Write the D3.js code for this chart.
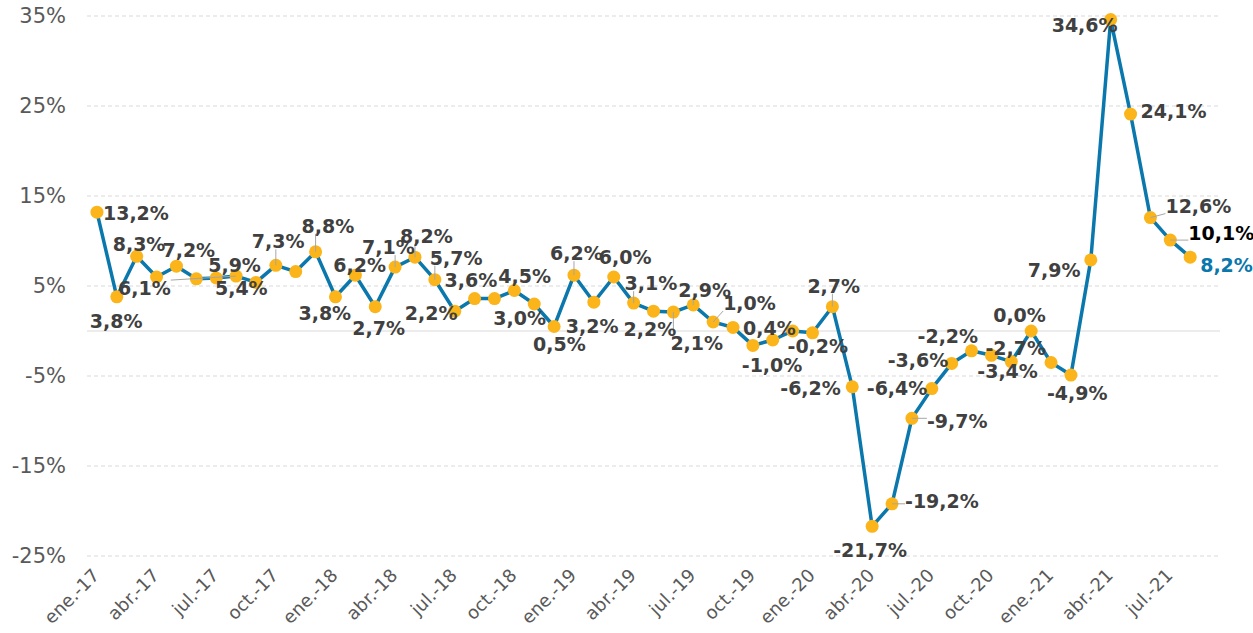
<!DOCTYPE html>
<html>
<head>
<meta charset="utf-8">
<script src="https://cdnjs.cloudflare.com/ajax/libs/d3/7.8.5/d3.min.js"></script>
<style>
  body { margin: 0; background: #fff; }
  svg { display: block; font-family: "DejaVu Sans", Verdana, sans-serif; }
</style>
</head>
<body>
<svg width="1253" height="633"></svg>
<script>

// month names and years of the category axis (57 slots, the last one empty)
var monthNames = ["ene.", "feb.", "mar.", "abr.", "may.", "jun.", "jul.", "ago.", "sep.", "oct.", "nov.", "dic."];
var years = ["17", "18", "19", "20", "21"];

// year-on-year variation, % (ene.-17 .. ago.-21)
var values = [
  13.2, 3.8, 8.3, 6.0, 7.2, 5.8, 5.9, 6.1, 5.4, 7.3, 6.6, 8.8,
  3.8, 6.2, 2.7, 7.1, 8.2, 5.7, 2.2, 3.6, 3.6, 4.5, 3.0, 0.5,
  6.2, 3.2, 6.0, 3.1, 2.2, 2.1, 2.9, 1.0, 0.4, -1.6, -1.0, 0.0,
  -0.2, 2.7, -6.2, -21.7, -19.2, -9.7, -6.4, -3.6, -2.2, -2.7, -3.4, 0.0,
  -3.5, -4.9, 7.9, 34.6, 24.1, 12.6, 10.1, 8.2
];

var yTicks = [-25, -15, -5, 5, 15, 25, 35];

// label placement: [index, dx, dy, leader]  (offset of label start/baseline from the point)
var labelPos = [
  [0, 6, 8, false], [1, -27, 31, false], [2, -24, -5, false], [4, -14, -9, false],
  [6, -8, -6, false], [7, -118, 19, true], [8, -41, 13, false], [9, -24, -17, true],
  [11, -14, -19, true], [12, -37, 23, false], [13, -22, -3, false], [14, -23, 28, false],
  [15, -33, -13, true], [16, -15, -14, true], [17, -5, -15, true], [18, -50, 9, false],
  [19, -30, -12, false], [21, -16, -8, false], [22, -41, 21, false], [23, -21, 24, false],
  [24, -24, -15, true], [25, -28, 31, false], [26, -15, -13, false], [27, -9, -13, true],
  [28, -30, 25, false], [29, -3, 38, true], [30, -15, -8, true], [31, 10, -12, true],
  [32, 10, 8, false], [34, -31, 32, false], [36, -25, 20, false], [37, -25, -14, true],
  [38, -72, 8, false], [39, -39, 31, false], [40, 13, 4, true], [41, 15, 10, true],
  [42, -65, 6, false], [43, -64, 4, false], [44, -54, -8, false], [45, -6, 0, false],
  [46, -34, 16, false], [47, -38, -9, false], [49, -24, 25, false], [50, -63, 17, false],
  [51, -59, 12, false], [52, 10, 4, false], [53, 15, -5, true], [54, 18, 0, true],
  [55, 10, 15, false]
];

// labels with their own colour
var labelColors = { 54: "#000000", 55: "#0a77ad" };

var categories = [];
years.forEach(function(yy) {
  monthNames.forEach(function(m) {
    if (categories.length < 57) categories.push(m + "-" + yy);
  });
});
var tickCats = categories.filter(function(d, i) { return i % 3 === 0 && i < 56; });

var es = d3.formatLocale({decimal: ",", thousands: ".", grouping: [3], currency: ["", "€"], minus: "-"});
var fmtLabel = es.format(".1f");
var fmtTick = es.format(".0f");

var plotLeft = 87, plotRight = 1220, plotTop = 16, plotBottom = 556;

var x = d3.scaleBand().domain(categories).range([plotLeft, plotRight]);
var y = d3.scaleLinear().domain([-25, 35]).range([plotBottom, plotTop]);

function px(i) { return x(categories[i]) + x.bandwidth() / 2; }

var svg = d3.select("svg");

// gridlines
svg.append("g").selectAll("line").data(yTicks).enter().append("line")
  .attr("x1", plotLeft).attr("x2", plotRight)
  .attr("y1", function(d) { return y(d); }).attr("y2", function(d) { return y(d); })
  .attr("stroke", "#d9d9d9").attr("stroke-width", 1)
  .attr("stroke-dasharray", "4,3");

// zero line
svg.append("line")
  .attr("x1", plotLeft).attr("x2", plotRight)
  .attr("y1", y(0)).attr("y2", y(0))
  .attr("stroke", "#d9d9d9").attr("stroke-width", 1);

// y axis
var yAxis = svg.append("g")
  .attr("transform", "translate(66,0)")
  .call(d3.axisLeft(y).tickValues(yTicks).tickSize(0).tickPadding(0)
    .tickFormat(function(d) { return fmtTick(d) + "%"; }));
yAxis.select(".domain").remove();
yAxis.selectAll("text")
  .attr("font-family", "DejaVu Sans, Verdana, sans-serif")
  .attr("font-size", 21).attr("fill", "#595959");

// x axis
var xAxis = svg.append("g")
  .attr("transform", "translate(0,572)")
  .call(d3.axisBottom(x).tickValues(tickCats).tickSize(0).tickPadding(0));
xAxis.select(".domain").remove();
xAxis.selectAll("text")
  .attr("font-family", "DejaVu Sans, Verdana, sans-serif")
  .attr("font-size", 18).attr("fill", "#595959")
  .attr("text-anchor", "end")
  .attr("x", -1).attr("y", 0).attr("dy", "0.35em")
  .attr("transform", "rotate(-45 -1 0)");

// line
var line = d3.line()
  .x(function(d, i) { return px(i); })
  .y(function(d) { return y(d); });

svg.append("path")
  .datum(values)
  .attr("d", line)
  .attr("fill", "none")
  .attr("stroke", "#0a77ad")
  .attr("stroke-width", 3.5)
  .attr("stroke-linejoin", "round");

// markers
svg.append("g").selectAll("circle").data(values).enter().append("circle")
  .attr("cx", function(d, i) { return px(i); })
  .attr("cy", function(d) { return y(d); })
  .attr("r", 6.5)
  .attr("fill", "#fbb41a");

// data labels
var leaders = svg.append("g");
var labels = svg.append("g")
  .attr("font-family", "DejaVu Sans, Verdana, sans-serif")
  .attr("font-weight", "bold")
  .attr("font-size", 19);

labelPos.forEach(function(p) {
  var i = p[0], cx = px(i), cy = y(values[i]);
  var t = labels.append("text")
    .attr("x", cx + p[1])
    .attr("y", cy + p[2])
    .attr("fill", labelColors[i] || "#404040")
    .text(fmtLabel(values[i]) + "%");

  if (p[3]) {
    var b = t.node().getBBox();
    var nx = Math.max(b.x, Math.min(cx, b.x + b.width));
    var ny = Math.max(b.y + 3, Math.min(cy, b.y + b.height - 3));
    leaders.append("line")
      .attr("x1", cx).attr("y1", cy)
      .attr("x2", nx).attr("y2", ny)
      .attr("stroke", "#a6a6a6").attr("stroke-width", 1);
  }
});

</script>
</body>
</html>
